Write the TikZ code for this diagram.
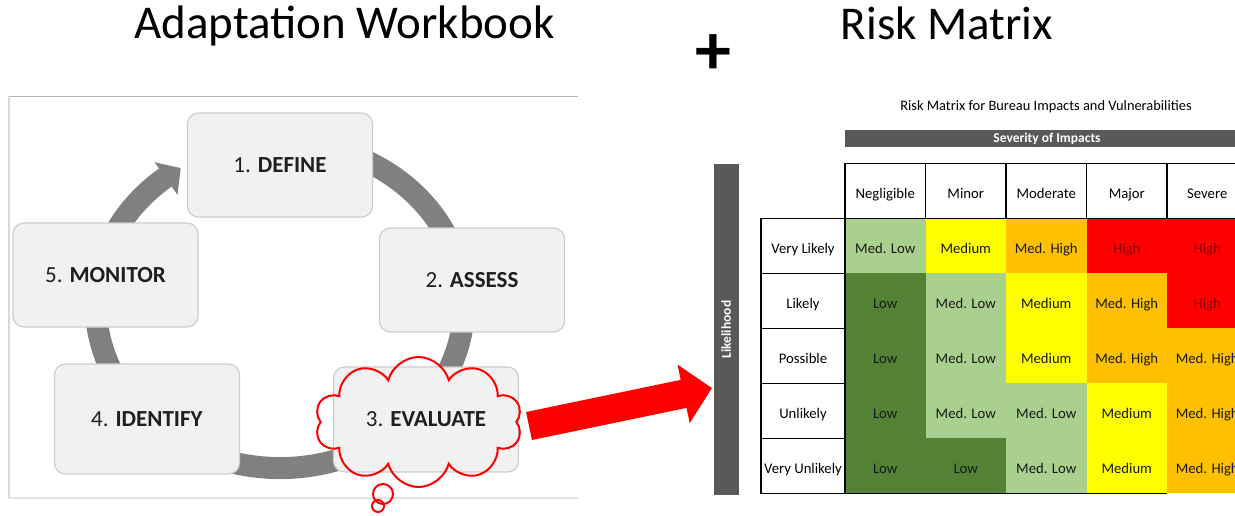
\documentclass[tikz,border=0pt]{standalone}
\usepackage{fontspec}
\setmainfont{Carlito}
\usetikzlibrary{shapes.symbols,arrows.meta}
\definecolor{ringgray}{RGB}{128,128,128}
\definecolor{boxfill}{RGB}{241,241,241}
\definecolor{boxline}{RGB}{205,205,205}
\definecolor{bardark}{RGB}{89,89,89}
\definecolor{cDG}{RGB}{84,130,53}
\definecolor{cLG}{RGB}{169,208,142}
\definecolor{cYE}{RGB}{255,255,0}
\definecolor{cOR}{RGB}{255,192,0}
\definecolor{cRD}{RGB}{255,0,0}
\definecolor{txtdark}{RGB}{25,25,25}
\definecolor{hightxt}{RGB}{140,0,0}
\newcommand\fsz[1]{\fontsize{#1}{#1}\selectfont}
\newcommand\rmcell[5]{\node[cellbox, fill=#3, text=#5] (c#1#2) at ({804.75+80.5*#1},{190.8+55*#2}) {#4};}
\begin{document}
\begin{tikzpicture}[x=1pt,y=-1pt,
  stagebox/.style={draw=boxline, line width=1.2pt, fill=boxfill, rounded corners=11pt,
    minimum width=185pt, minimum height=104pt, inner sep=0pt, font=\fsz{23}, text=black!88},
  cellbox/.style={minimum width=80.5pt, minimum height=55pt, inner sep=0pt, outer sep=0pt,
    text height=15pt, text depth=0pt, font=\fsz{14.7}, text=txtdark},
  hdrcell/.style={cellbox, draw=black, line width=1.3pt, fill=white, text=black}
]
\useasboundingbox (0,0) rectangle (1235,515);
\clip (0,0) rectangle (1235,515);

% titles
\node[font=\fsz{47}, anchor=base, inner sep=0pt] (t1) at (344.5,38.5) {Adaptation Workbook};
\node[font=\fsz{47}, anchor=base, inner sep=0pt] (t2) at (947,39) {Risk Matrix};
\node[font=\bfseries\fsz{72}, inner sep=0pt] (plus) at (713.5,55) {+};

% left panel frame
\draw[gray!60, line width=1.5pt] (8,96.5) -- (578,96.5);
\draw[gray!30, line width=1.2pt] (9,96) -- (9,498);
\draw[gray!22, line width=1.2pt] (8,498) -- (578,498);

% cycle ring
\draw[ringgray, line width=22pt] (327.6,147.6) arc[start angle=75, end angle=-231.5, x radius=184pt, y radius=163pt];
\coordinate (hb1) at (154.5,162.2);
\coordinate (htip) at (180.7,168.1);
\coordinate (hb2) at (177.5,194.8);
\fill[ringgray] (hb1) -- (htip) -- (hb2) -- cycle;

% stage boxes
\node[stagebox] (define) at (280,165) {1. \textbf{DEFINE}};
\node[stagebox] (assess) at (472,280) {2. \textbf{ASSESS}};
\node[stagebox, minimum height=105pt] (evaluate) at (426,419.5) {3. \textbf{EVALUATE}};
\node[stagebox, minimum height=110pt] (identify) at (147,419) {4. \textbf{IDENTIFY}};
\node[stagebox] (monitor) at (105.5,275) {5. \textbf{MONITOR}};

% cloud
\node[cloud, cloud puffs=10, aspect=1.6, draw=red, line width=2pt,
  minimum width=207pt, minimum height=130pt] (cloud) at (418.5,422) {};
\draw[red, line width=2pt] (383,494) circle[radius=10pt];
\draw[red, line width=2pt] (378,506) circle[radius=6pt];

% red arrow
\coordinate (arrS) at (529,426);
\coordinate (arrT) at (712,388);
\draw[red, line width=28.6pt, -{Triangle[length=29pt,width=58pt]}] (arrS) -- (arrT);

% risk matrix
\node[font=\fsz{14.4}, anchor=base, inner sep=0pt] (mtitle) at (1046,110) {Risk Matrix for Bureau Impacts and Vulnerabilities};
\fill[bardark] (845,130) rectangle (1240,147.3);
\node[text=white, font=\bfseries\fsz{13.5}] (sev) at (1047,138.6) {Severity of Impacts};
\fill[bardark] (713.6,164) rectangle (739,495);
\node[text=white, rotate=90, font=\bfseries\fsz{13.5}] (lik) at (726.3,329.5) {Likelihood};

\rmcell{1}{1}{cLG}{Med. Low}{txtdark}
\rmcell{2}{1}{cYE}{Medium}{txtdark}
\rmcell{3}{1}{cOR}{Med. High}{txtdark}
\rmcell{4}{1}{cRD}{High}{hightxt}
\rmcell{5}{1}{cRD}{High}{hightxt}
\rmcell{1}{2}{cDG}{Low}{txtdark}
\rmcell{2}{2}{cLG}{Med. Low}{txtdark}
\rmcell{3}{2}{cYE}{Medium}{txtdark}
\rmcell{4}{2}{cOR}{Med. High}{txtdark}
\rmcell{5}{2}{cRD}{High}{hightxt}
\rmcell{1}{3}{cDG}{Low}{txtdark}
\rmcell{2}{3}{cLG}{Med. Low}{txtdark}
\rmcell{3}{3}{cYE}{Medium}{txtdark}
\rmcell{4}{3}{cOR}{Med. High}{txtdark}
\rmcell{5}{3}{cOR}{Med. High}{txtdark}
\rmcell{1}{4}{cDG}{Low}{txtdark}
\rmcell{2}{4}{cLG}{Med. Low}{txtdark}
\rmcell{3}{4}{cLG}{Med. Low}{txtdark}
\rmcell{4}{4}{cYE}{Medium}{txtdark}
\rmcell{5}{4}{cOR}{Med. High}{txtdark}
\rmcell{1}{5}{cDG}{Low}{txtdark}
\rmcell{2}{5}{cDG}{Low}{txtdark}
\rmcell{3}{5}{cLG}{Med. Low}{txtdark}
\rmcell{4}{5}{cYE}{Medium}{txtdark}
\rmcell{5}{5}{cOR}{Med. High}{txtdark}

\node[hdrcell] (h1) at (885.25,190.8) {Negligible};
\node[hdrcell] (h2) at (965.75,190.8) {Minor};
\node[hdrcell] (h3) at (1046.25,190.8) {Moderate};
\node[hdrcell] (h4) at (1126.75,190.8) {Major};
\node[hdrcell] (h5) at (1207.25,190.8) {Severe};

\node[hdrcell, minimum width=84pt] (rl1) at (803,245.8) {Very Likely};
\node[hdrcell, minimum width=84pt] (rl2) at (803,300.8) {Likely};
\node[hdrcell, minimum width=84pt] (rl3) at (803,355.8) {Possible};
\node[hdrcell, minimum width=84pt] (rl4) at (803,410.8) {Unlikely};
\node[hdrcell, minimum width=84pt] (rl5) at (803,465.8) {Very Unlikely};
\draw[black, line width=1.3pt] (rl5.south east) -- (c45.south east);
\end{tikzpicture}
\end{document}
